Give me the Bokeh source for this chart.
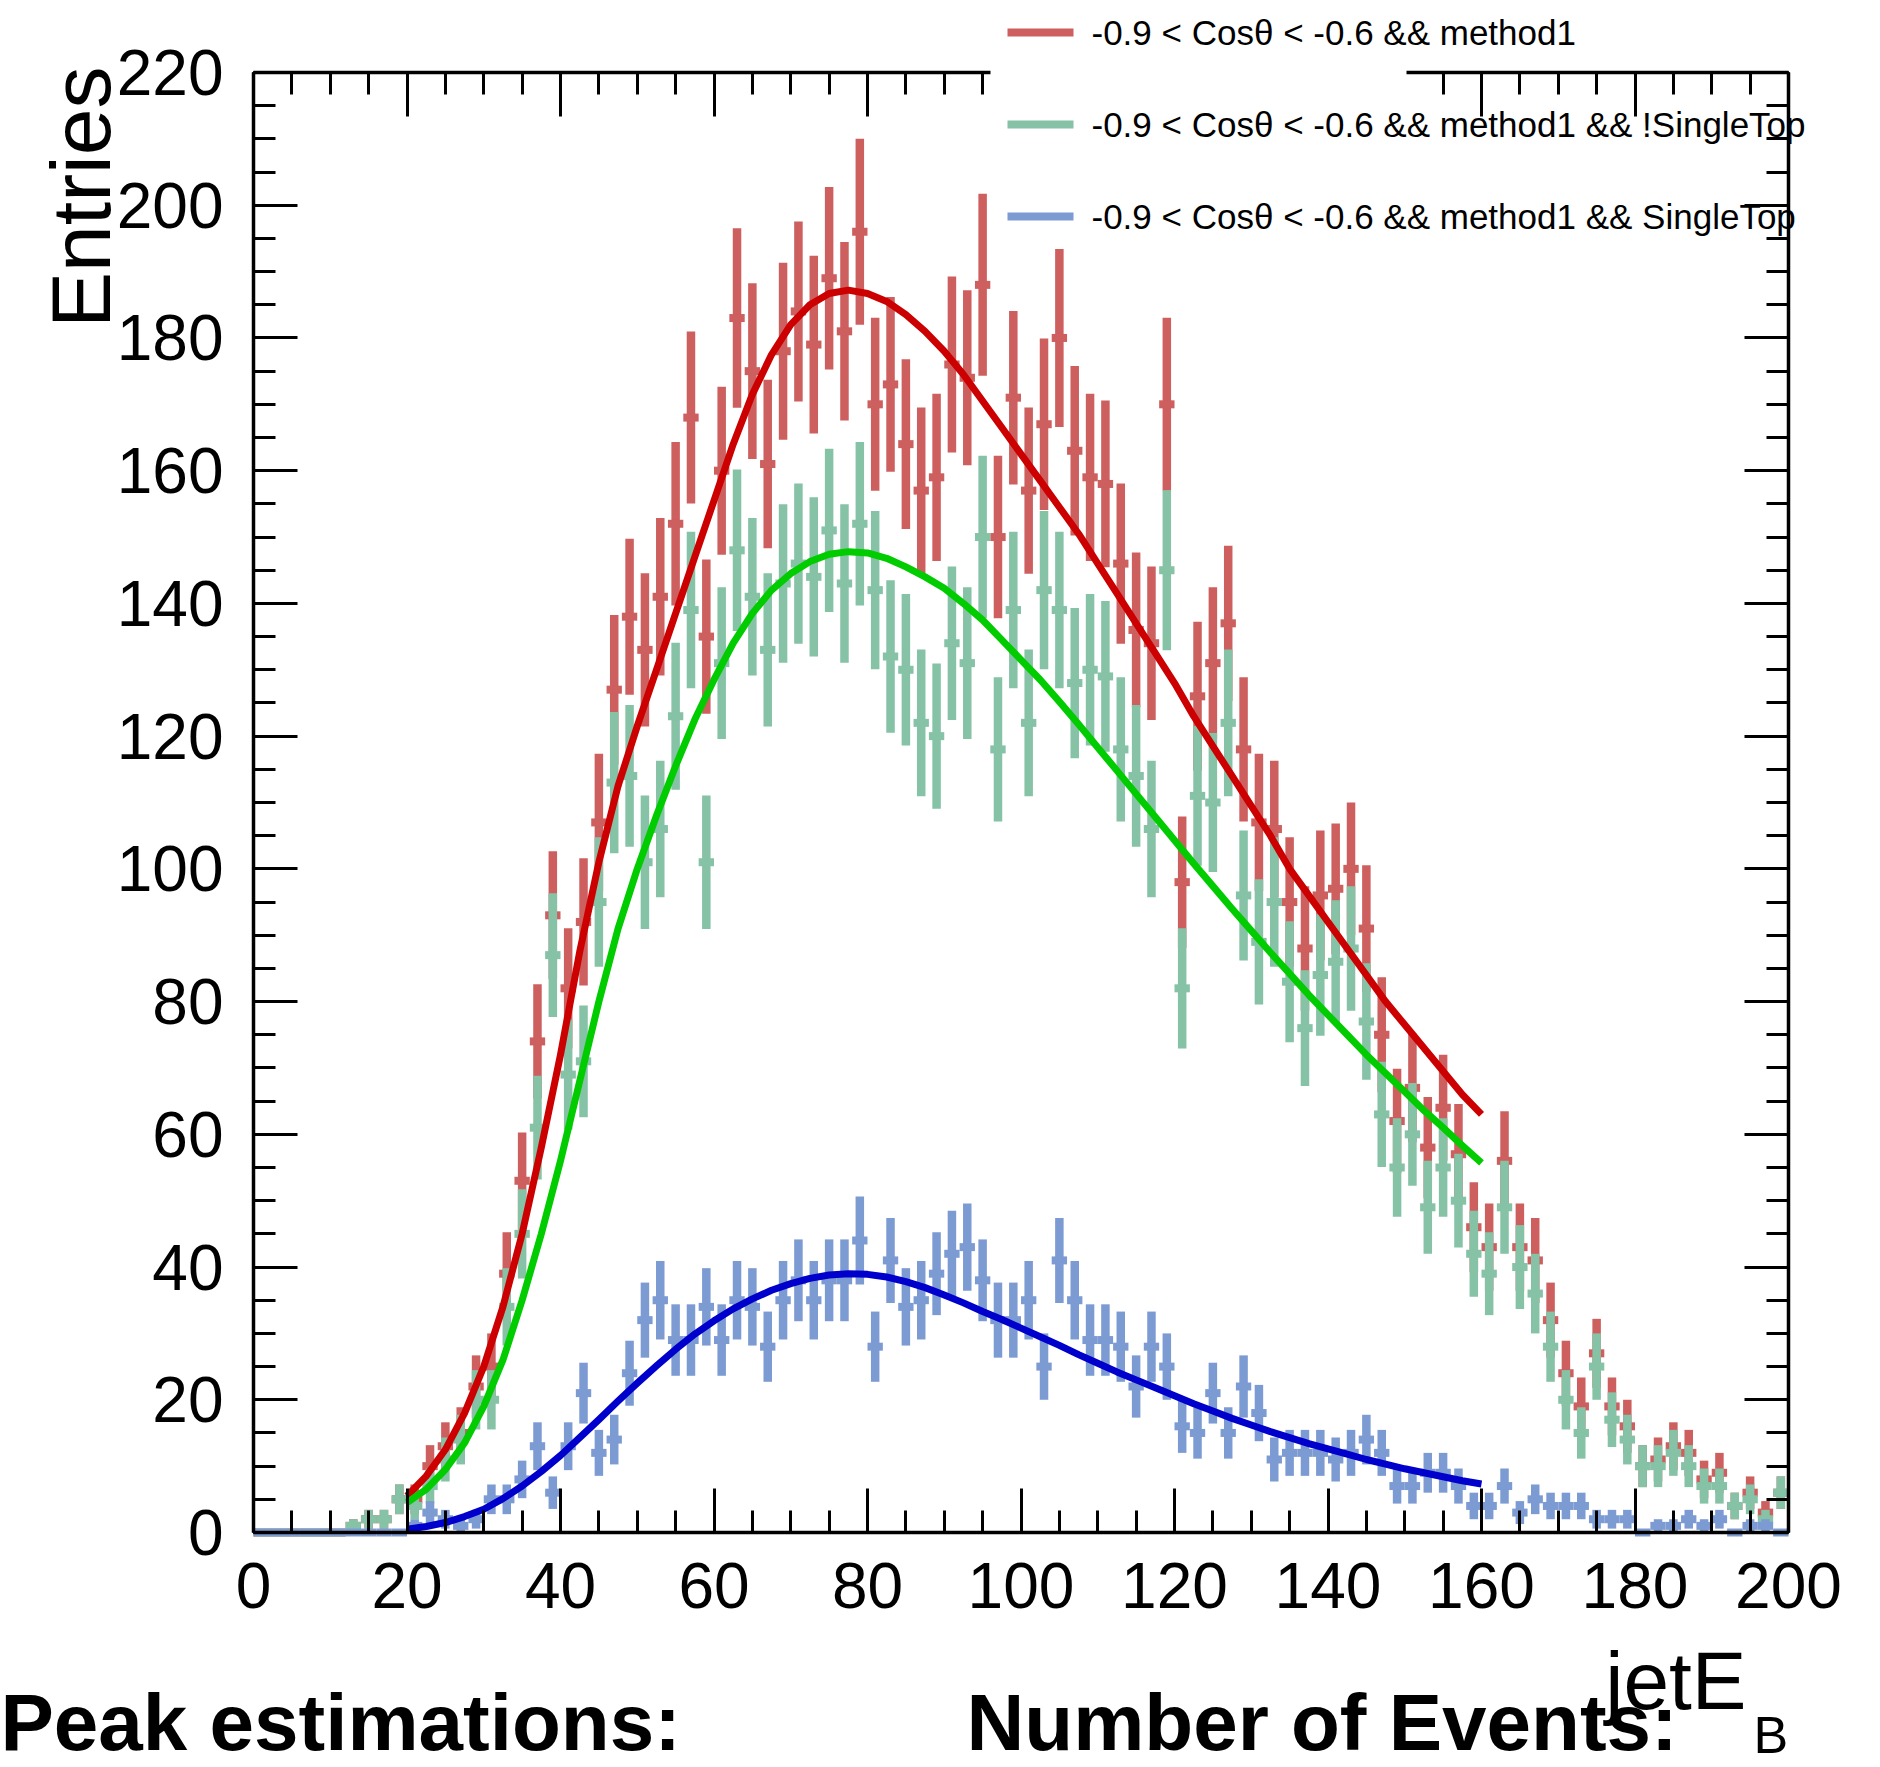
import numpy as np
from bokeh.plotting import figure
from bokeh.models import FixedTicker, LinearAxis, Label
from bokeh.embed import file_html
from bokeh.resources import INLINE

# ---- data: 100 bins of width 2 over jetE_B in [0, 200] ----
bin_lo = list(range(0, 200, 2))

green_counts = [0, 0, 0, 0, 0, 0, 1, 2, 2, 5,
                4, 7, 11, 14, 20, 20, 34, 45, 61, 87,
                69, 71, 95, 113, 114, 101, 106, 123, 139, 101,
                131, 148, 141, 133, 143, 146, 144, 151, 143, 152,
                142, 132, 130, 122, 120, 134, 131, 150, 118, 139,
                122, 142, 139, 128, 130, 129, 118, 114, 106, 145,
                82, 111, 110, 122, 96, 89, 95, 83, 76, 84,
                86, 88, 77, 63, 55, 60, 49, 55, 50, 42,
                39, 49, 40, 36, 28, 20, 15, 25, 17, 14,
                10, 10, 12, 10, 7, 7, 4, 5, 2, 6]

blue_counts = [0, 0, 0, 0, 0, 0, 0, 0, 0, 0,
               1, 3, 2, 1, 2, 5, 5, 8, 13, 6,
               13, 21, 12, 14, 24, 32, 35, 29, 29, 34,
               29, 35, 34, 28, 35, 38, 35, 38, 38, 44,
               28, 41, 34, 35, 39, 42, 43, 38, 32, 32,
               35, 25, 41, 35, 29, 29, 28, 22, 28, 25,
               16, 15, 21, 15, 22, 18, 11, 12, 12, 12,
               11, 12, 14, 12, 7, 7, 9, 9, 7, 4,
               4, 7, 3, 5, 4, 4, 4, 2, 2, 2,
               0, 1, 1, 2, 1, 2, 0, 1, 1, 0]

red_counts = [0, 0, 0, 0, 0, 0, 1, 2, 2, 5,
              5, 10, 13, 15, 22, 25, 39, 53, 74, 93,
              82, 92, 107, 127, 138, 133, 141, 152, 168, 135,
              160, 183, 175, 161, 178, 184, 179, 189, 181, 196,
              170, 173, 164, 157, 159, 176, 174, 188, 150, 171,
              157, 167, 180, 163, 159, 158, 146, 136, 134, 170,
              98, 126, 131, 137, 118, 107, 106, 95, 88, 96,
              97, 100, 91, 75, 62, 67, 58, 64, 57, 46,
              43, 56, 43, 41, 32, 24, 19, 27, 19, 16,
              10, 11, 13, 12, 8, 9, 4, 6, 3, 6]

# fitted curves, read every 2.5 GeV between 20 and 160
fit_x = [20, 22.5, 25, 27.5, 30, 32.5, 35, 37.5, 40, 42.5, 45, 47.5, 50, 52.5, 55,
         57.5, 60, 62.5, 65, 67.5, 70, 72.5, 75, 77.5, 80, 82.5, 85, 87.5, 90, 92.5,
         95, 97.5, 100, 102.5, 105, 107.5, 110, 112.5, 115, 117.5, 120, 122.5, 125,
         127.5, 130, 132.5, 135, 137.5, 140, 142.5, 145, 147.5, 150, 152.5, 155,
         157.5, 160]
red_fit = [5.5, 8.5, 12.5, 18, 25, 34, 45, 58, 72, 87.5, 101, 112.5, 121.5, 130, 138.5,
           147, 155.5, 164, 171.5, 177.5, 182, 185, 186.7, 187.2, 186.7, 185.5, 183.5,
           181, 178, 174.5, 170.5, 166.5, 162.5, 158.5, 154.5, 150.5, 146, 141.5, 137,
           132.5, 128, 123, 118.5, 114, 109.5, 105, 100, 96, 92, 88, 84, 80, 76.5, 73,
           69.5, 66, 63]
green_fit = [4.5, 6.5, 9.5, 13.5, 19, 26, 35, 45, 56, 68, 80, 91, 100, 108, 115.5,
             122.5, 128.5, 134, 138.5, 142, 144.5, 146.3, 147.4, 147.8, 147.6, 146.8,
             145.5, 144, 142.3, 140, 137.5, 134.5, 131.5, 128.5, 125.2, 121.8, 118.3,
             114.8, 111.3, 107.8, 104.3, 100.8, 97.4, 94, 90.7, 87.4, 84.2, 81, 78, 75,
             72, 69.2, 66.4, 63.6, 61, 58.3, 55.7]
blue_fit = [0.5, 0.9, 1.5, 2.4, 3.5, 5.1, 7, 9.2, 11.6, 14.3, 17, 19.8, 22.5, 25.1, 27.6,
            29.9, 31.9, 33.7, 35.2, 36.5, 37.5, 38.3, 38.8, 39, 38.9, 38.5, 37.8, 36.9,
            35.8, 34.6, 33.3, 32.1, 30.8, 29.5, 28.2, 26.8, 25.5, 24.2, 23, 21.8, 20.6,
            19.4, 18.3, 17.2, 16.2, 15.2, 14.3, 13.4, 12.6, 11.8, 11, 10.3, 9.6, 9,
            8.4, 7.8, 7.3]

legend_labels = ["-0.9 < Cos\u03b8 < -0.6 && method1",
                 "-0.9 < Cos\u03b8 < -0.6 && method1 && !SingleTop",
                 "-0.9 < Cos\u03b8 < -0.6 && method1 && SingleTop"]

x_ticks = list(range(0, 201, 20))
x_minor = list(range(0, 201, 5))
y_ticks = list(range(0, 221, 20))
y_minor = list(range(0, 221, 5))

RED_H, GREEN_H, BLUE_H = "#cd5f5f", "#86c2a6", "#7d9bd3"
RED_F, GREEN_F, BLUE_F = "#cc0000", "#00cc00", "#0000cc"
FONT = "Liberation Sans"

W, H = 1880, 1767
FX0, FX1, FY0, FY1 = 253, 1788, 1532, 72   # frame edges in canvas pixels
sx = (FX1 - FX0) / 200.0
sy = (FY0 - FY1) / 220.0
xr = (-FX0 / sx, 200 + (W - FX1) / sx)
yr = (-(H - FY0) / sy, 220 + FY1 / sy)


def cx(px):
    return (px - FX0) / sx


def cy(py):
    return (FY0 - py) / sy


p = figure(width=W, height=H, x_range=xr, y_range=yr,
           output_backend="svg", toolbar_location=None,
           x_axis_location=None, y_axis_location=None,
           min_border=0)
p.min_border_left = 0
p.min_border_right = 0
p.min_border_top = 0
p.min_border_bottom = 0
p.grid.visible = False
p.outline_line_color = None
p.background_fill_color = "white"
p.border_fill_color = "white"

legend_gap = (96.0, 150.2)   # the legend box hides this stretch of the top frame


def make_axis(major, minor, loc, bounds, show_labels):
    ax = LinearAxis(ticker=FixedTicker(ticks=major, minor_ticks=minor),
                    fixed_location=loc, bounds=bounds)
    ax.axis_line_width = 3.5
    ax.axis_line_color = "black"
    ax.major_tick_in = 44
    ax.major_tick_out = 0
    ax.minor_tick_in = 22
    ax.minor_tick_out = 0
    ax.major_tick_line_width = 3
    ax.minor_tick_line_width = 3
    ax.major_tick_line_color = "black"
    ax.minor_tick_line_color = "black"
    if show_labels:
        ax.major_label_text_font = FONT
        ax.major_label_text_font_size = "64px"
        ax.major_label_text_color = "black"
        ax.major_label_standoff = 30
    else:
        ax.major_label_text_font_size = "1px"
        ax.major_label_text_color = None
    return ax


p.add_layout(make_axis(x_ticks, x_minor, 0, (0, 200), True), "below")
p.add_layout(make_axis(y_ticks, y_minor, 0, (0, 220), True), "left")
p.add_layout(make_axis(y_ticks, y_minor, 200, (0, 220), False), "right")
p.add_layout(make_axis([t for t in x_ticks if t < legend_gap[0]],
                       [t for t in x_minor if t < legend_gap[0]],
                       220, (0, legend_gap[0]), False), "above")
p.add_layout(make_axis([t for t in x_ticks if t > legend_gap[1]],
                       [t for t in x_minor if t > legend_gap[1]],
                       220, (legend_gap[1], 200), False), "above")


def draw_hist(counts, color):
    lo = np.array(bin_lo, dtype=float)
    v = np.array(counts, dtype=float)
    e = np.sqrt(v)
    p.segment(x0=lo + 1, y0=v - e, x1=lo + 1, y1=v + e, line_width=8.5,
              line_color=color, line_cap="butt")
    p.segment(x0=lo, y0=v, x1=lo + 2, y1=v, line_width=8,
              line_color=color, line_cap="butt")


draw_hist(red_counts, RED_H)
draw_hist(green_counts, GREEN_H)
draw_hist(blue_counts, BLUE_H)

p.line(fit_x, red_fit, line_color=RED_F, line_width=7, line_join="round")
p.line(fit_x, green_fit, line_color=GREEN_F, line_width=7, line_join="round")
p.line(fit_x, blue_fit, line_color=BLUE_F, line_width=7, line_join="round")

# legend entries (no frame), canvas y of rows: 32, 124, 216
for lab, col, row in zip(legend_labels, [RED_H, GREEN_H, BLUE_H], (32, 124, 216)):
    yy = cy(row)
    p.segment(x0=[cx(1007)], y0=[yy], x1=[cx(1073)], y1=[yy], line_width=8, line_color=col)
    p.add_layout(Label(x=cx(1091), y=yy, text=lab, text_font=FONT, text_font_size="35px",
                       text_baseline="middle", text_align="left", text_color="black"))

# axis titles
p.add_layout(Label(x=cx(80), y=cy(66), text="Entries", angle=np.pi / 2,
                   text_align="right", text_baseline="middle",
                   text_font=FONT, text_font_size="84px", text_color="black"))
p.add_layout(Label(x=cx(1746), y=cy(1680), text="jetE", text_align="right",
                   text_baseline="middle", text_font=FONT, text_font_size="82px",
                   text_color="black"))
p.add_layout(Label(x=cx(1753), y=cy(1734), text="B", text_align="left",
                   text_baseline="middle", text_font=FONT, text_font_size="52px",
                   text_color="black"))

# bottom texts
p.add_layout(Label(x=cx(0), y=cy(1722), text="Peak estimations:",
                   text_align="left", text_baseline="middle", text_font=FONT,
                   text_font_size="80px", text_font_style="bold", text_color="black"))
p.add_layout(Label(x=cx(966), y=cy(1722), text="Number of Events:",
                   text_align="left", text_baseline="middle", text_font=FONT,
                   text_font_size="80px", text_font_style="bold", text_color="black"))

open("out.html", "w").write(file_html(p, INLINE))
